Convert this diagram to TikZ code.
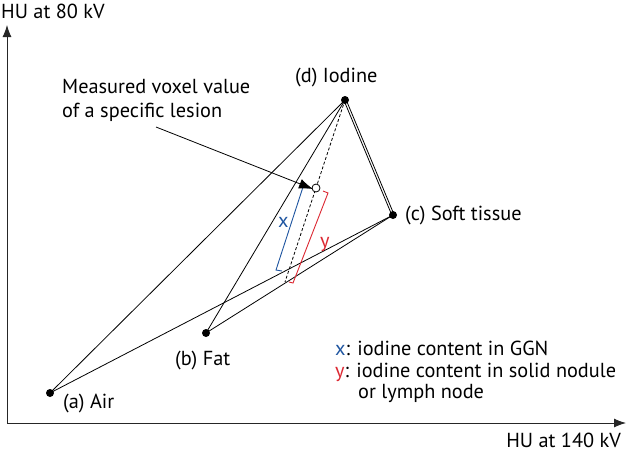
\documentclass[tikz,border=0pt]{standalone}
\usepackage{fontspec}
\setmainfont{PT Sans}
\usetikzlibrary{arrows.meta}
\definecolor{xblue}{RGB}{31,85,160}
\definecolor{yred}{RGB}{220,40,50}
\tikzset{
  lbl/.style={anchor=base west, inner sep=0pt, font=\fontsize{20.3}{24}\selectfont},
  edge/.style={line width=0.8pt, black},
  axis/.style={line width=0.9pt, black!85, -{Latex[length=12pt,width=9pt]}},
  dot/.style={fill=black},
}
\begin{document}
\begin{tikzpicture}[x=1pt,y=-1pt]
\useasboundingbox (0,0) rectangle (626,453);
% points
\coordinate (a) at (50,393);
\coordinate (b) at (206,333);
\coordinate (c) at (393,215);
\coordinate (d) at (345,100);
\coordinate (v) at (316,188);
\coordinate (e) at (285,282);
\coordinate (o) at (7,423);
\coordinate (ytip) at (7,25);
\coordinate (xtip) at (626,423);
% axes
\draw[axis] (o) -- (ytip);
\draw[axis] (o) -- (xtip);
% edges
\draw[edge] (a) -- (d);
\draw[edge] (a) -- (c);
\draw[edge] (b) -- (d);
\draw[edge] (b) -- (c);
\draw[edge] ([xshift=-1.2pt]d) -- ([xshift=-1.2pt]c);
\draw[edge] ([xshift=1.2pt]d) -- ([xshift=1.2pt]c);
\draw[edge, dashed, dash pattern=on 3pt off 2pt] (d) -- (e);
% brackets
\coordinate (x1) at (308,188);
\coordinate (x2) at (303,187);
\coordinate (x3) at (276,270);
\coordinate (x4) at (282,271);
\draw[xblue, line width=0.9pt] (x1) -- (x2) -- (x3) -- (x4);
\coordinate (y1) at (323,191);
\coordinate (y2) at (328,193);
\coordinate (y3) at (293,283);
\coordinate (y4) at (289,282);
\draw[yred, line width=0.9pt] (y1) -- (y2) -- (y3) -- (y4);
% voxel
\draw[line width=0.8pt, fill=white] (v) circle (4);
% pointer
\coordinate (p0) at (156,127);
\draw[line width=0.8pt, -{Latex[length=14pt,width=10pt]}] (p0) -- ([xshift=-3pt,yshift=-1pt]v);
% dots
\fill[dot] (a) circle (4);
\fill[dot] (b) circle (4);
\fill[dot] (c) circle (4);
\fill[dot] (d) circle (4);
% labels
\node[lbl] (ly) at (1,18) {HU at 80 kV};
\node[lbl, anchor=base east] (lx) at (621,447) {HU at 140 kV};
\node[lbl] (la) at (63,408) {(a) Air};
\node[lbl] (lb) at (175,365) {(b) Fat};
\node[lbl] (lc) at (405,220) {(c) Soft tissue};
\node[lbl] (ld) at (295,82) {(d) Iodine};
\node[lbl] (m1) at (62,93) {Measured voxel value};
\node[lbl] (m2) at (62,117) {of a specific lesion};
\node[lbl, text=xblue] (xl) at (278,227) {x};
\node[lbl, text=yred] (yl) at (320,247) {y};
\node[lbl] (g1) at (335,355) {\textcolor{xblue}{x}: iodine content in GGN};
\node[lbl] (g2) at (335,377) {\textcolor{yred}{y}: iodine content in solid nodule};
\node[lbl] (g3) at (358,398) {or lymph node};
\end{tikzpicture}
\end{document}
